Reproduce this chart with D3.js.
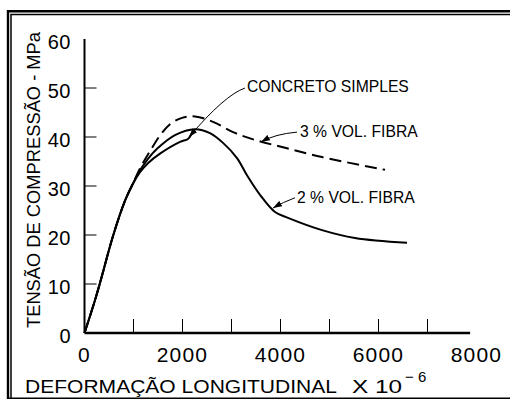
<!DOCTYPE html>
<html>
<head>
<meta charset="utf-8">
<script src="https://cdn.jsdelivr.net/npm/d3@7/dist/d3.min.js"></script>
<style>
  html, body { margin: 0; padding: 0; background: #fff; }
  svg { display: block; }
  text { font-family: 'Liberation Sans', Arial, sans-serif; fill: #000; }
</style>
</head>
<body>
<div id="chart"></div>
<script>
// strain (x 10^-6) and stress (MPa)
// shared rising branch, all three curves start together
const riseStrain = [0, 214, 316, 582, 827, 980];
const riseStress = [0, 6.7, 10.2, 19.8, 27.0, 30.3];

// 3 % vol. fibra (dashed)
const fiber3Strain = [1133, 1337, 1541, 1745, 1990, 2255, 2622, 3031, 3480, 4092, 4847, 6133];
const fiber3Stress = [33.6, 37.1, 40.3, 42.6, 43.9, 44.2, 43.1, 41.0, 39.4, 37.8, 35.9, 33.3];

// 2 % vol. fibra (solid)
const fiber2Strain = [1133, 1300, 1480, 1847, 2255, 2561, 2827, 3112, 3316, 3582, 3888, 4153, 4847, 5520, 6582];
const fiber2Stress = [33.2, 35.6, 37.6, 40.4, 41.6, 40.8, 38.8, 35.7, 32.2, 28.2, 24.7, 23.5, 21.0, 19.4, 18.4];

// concreto simples
const plainStrain = [1133, 1300, 1541, 1949, 2112, 2194, 2255];
const plainStress = [32.8, 34.7, 36.6, 39.0, 39.6, 40.8, 41.6];

const xTickLabels = [0, 2000, 4000, 6000, 8000];
const xTickMarks = [1000, 2000, 3000, 4000, 5000, 6000, 7000];
const yTickLabels = [0, 10, 20, 30, 40, 50, 60];
const yTickMarks = [10, 20, 30, 40, 50];
const xAxisEnd = 7870;

const width = 510;
const height = 399;

const x = d3.scaleLinear().domain([0, 8000]).range([84.5, 476.5]);
const y = d3.scaleLinear().domain([0, 60]).range([333, 39]);

const svg = d3.select('#chart').append('svg')
  .attr('width', width)
  .attr('height', height);

svg.append('rect').attr('width', width).attr('height', height).attr('fill', '#fff');

// double frame, open on the right like the scan
svg.append('path').attr('d', 'M8,399V11.2H510').attr('fill', 'none').attr('stroke', '#000').attr('stroke-width', 2.4);
svg.append('path').attr('d', 'M11,398V14.5H510').attr('fill', 'none').attr('stroke', '#000').attr('stroke-width', 1.5);
svg.append('line').attr('x1', 7).attr('x2', width).attr('y1', 398.3).attr('y2', 398.3)
  .attr('stroke', '#000').attr('stroke-width', 1.6);

const defs = svg.append('defs');
defs.append('marker')
  .attr('id', 'arrow')
  .attr('markerUnits', 'userSpaceOnUse')
  .attr('markerWidth', 9).attr('markerHeight', 6)
  .attr('refX', 9).attr('refY', 3)
  .attr('orient', 'auto')
  .append('path').attr('d', 'M0,0L9,3L0,6Z').attr('fill', '#000');

// axes
const chart = svg.append('g');

chart.append('line')
  .attr('x1', x(0)).attr('x2', x(0)).attr('y1', y(60)).attr('y2', y(0))
  .attr('stroke', '#000').attr('stroke-width', 2);
chart.append('line')
  .attr('x1', x(0)).attr('x2', x(xAxisEnd)).attr('y1', y(0)).attr('y2', y(0))
  .attr('stroke', '#000').attr('stroke-width', 2.3);

chart.selectAll('.ytick').data(yTickMarks).enter().append('line')
  .attr('class', 'ytick')
  .attr('x1', x(0)).attr('x2', x(0) + 12)
  .attr('y1', d => y(d)).attr('y2', d => y(d))
  .attr('stroke', '#000').attr('stroke-width', 1);

chart.selectAll('.xtick').data(xTickMarks).enter().append('line')
  .attr('class', 'xtick')
  .attr('x1', d => x(d)).attr('x2', d => x(d))
  .attr('y1', y(0)).attr('y2', y(0) - 14)
  .attr('stroke', '#000').attr('stroke-width', 1);

chart.selectAll('.ylabel').data(yTickLabels).enter().append('text')
  .attr('class', 'ylabel')
  .attr('x', 71)
  .attr('y', d => y(d) + 10)
  .attr('text-anchor', 'end')
  .style('font-size', '20px')
  .style('letter-spacing', '0.5px')
  .text(d => d);

chart.selectAll('.xlabel').data(xTickLabels).enter().append('text')
  .attr('class', 'xlabel')
  .attr('x', d => x(d))
  .attr('y', 362)
  .attr('text-anchor', 'middle')
  .style('font-size', '21px')
  .style('letter-spacing', '1.2px')
  .text(d => d);

// axis titles
svg.append('text')
  .attr('transform', 'translate(40,328) rotate(-90)')
  .attr('textLength', 296)
  .attr('lengthAdjust', 'spacingAndGlyphs')
  .style('font-size', '17.5px')
  .text('TENSÃO DE COMPRESSÃO - MPa');

svg.append('text')
  .attr('x', 25).attr('y', 393)
  .attr('textLength', 312)
  .attr('lengthAdjust', 'spacingAndGlyphs')
  .style('font-size', '18px')
  .text('DEFORMAÇÃO LONGITUDINAL');

svg.append('text')
  .attr('x', 352).attr('y', 393)
  .attr('textLength', 50)
  .attr('lengthAdjust', 'spacingAndGlyphs')
  .style('font-size', '18px')
  .text('X  10');

svg.append('text')
  .attr('x', 405).attr('y', 382)
  .style('font-size', '15px')
  .text('− 6');

// curves
const toPoints = (xs, ys) => xs.map((v, i) => [v, ys[i]]);
const line = d3.line()
  .x(d => x(d[0]))
  .y(d => y(d[1]))
  .curve(d3.curveCatmullRom.alpha(0.5));

const series = [
  { pts: toPoints(riseStrain, riseStress).concat(toPoints(fiber2Strain, fiber2Stress)), dash: null },
  { pts: toPoints(riseStrain, riseStress).concat(toPoints(plainStrain, plainStress)), dash: null },
  { pts: toPoints(riseStrain, riseStress).concat(toPoints(fiber3Strain, fiber3Stress)), dash: '12,6' }
];

chart.selectAll('.curve').data(series).enter().append('path')
  .attr('class', 'curve')
  .attr('d', d => line(d.pts))
  .attr('fill', 'none')
  .attr('stroke', '#000')
  .attr('stroke-width', 2)
  .attr('stroke-linejoin', 'round')
  .attr('stroke-dasharray', d => d.dash);

// callouts: text start, leader start, control point and arrow tip (data units)
const notes = [
  { label: 'CONCRETO SIMPLES', at: [3316, 49.2], from: [3276, 50.0], ctrl: [2867, 48.6], tip: [2133, 40.0] },
  { label: '3 % VOL. FIBRA', at: [4398, 40.0], from: [4337, 41.0], ctrl: [3888, 40.6], tip: [3602, 39.0] },
  { label: '2 % VOL. FIBRA', at: [4337, 26.5], from: [4296, 27.6], ctrl: [4051, 26.7], tip: [3847, 25.5] }
];

const noteG = chart.selectAll('.note').data(notes).enter().append('g').attr('class', 'note');
noteG.append('path')
  .attr('d', d => `M${x(d.from[0])},${y(d.from[1])}Q${x(d.ctrl[0])},${y(d.ctrl[1])} ${x(d.tip[0])},${y(d.tip[1])}`)
  .attr('fill', 'none')
  .attr('stroke', '#000')
  .attr('stroke-width', 1)
  .attr('marker-end', 'url(#arrow)');
noteG.append('text')
  .attr('x', d => x(d.at[0]))
  .attr('y', d => y(d.at[1]))
  .style('font-size', '15.7px')
  .text(d => d.label);
</script>
</body>
</html>
